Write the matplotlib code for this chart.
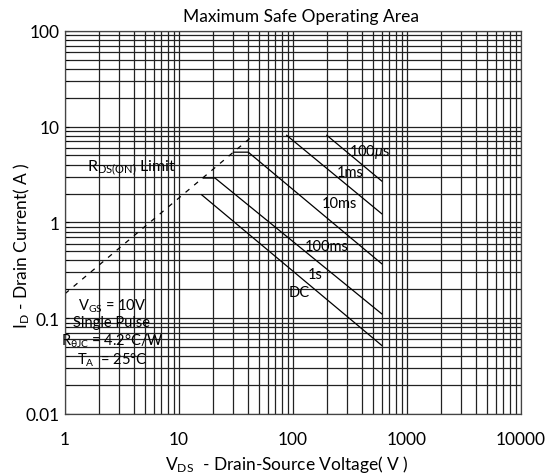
import numpy as np
import matplotlib
matplotlib.use("Agg")
import matplotlib.pyplot as plt
from matplotlib.ticker import LogLocator, NullFormatter, FixedLocator, FixedFormatter

plt.rcParams['font.family'] = ['Lato', 'DejaVu Sans']
plt.rcParams['mathtext.fontset'] = 'custom'
plt.rcParams['mathtext.rm'] = 'Lato'
plt.rcParams['mathtext.it'] = 'Lato:italic'

# SOA boundary curves (V, A)
rds_v = [1, 45]
rds_i = [0.18, 8.1]

us100_v = [198, 600]
us100_i = [8.1, 2.7]

ms1_v = [88, 600]
ms1_i = [8.1, 1.23]

ms10_v = [30, 40.5, 600]
ms10_i = [5.4, 5.4, 0.37]

ms100_v = [16.3, 20.7, 600]
ms100_i = [2.9, 2.9, 0.111]

dc_v = [15.8, 600]
dc_i = [1.94, 0.052]

x_ticks = [1, 10, 100, 1000, 10000]
x_labels = ["1", "10", "100", "1000", "10000"]
y_ticks = [0.01, 0.1, 1, 10, 100]
y_labels = ["0.01", "0.1", "1", "10", "100"]

curve_labels = ["100$\\mu$s", "1ms", "10ms", "100ms", "1s", "DC"]
label_v = [473, 316, 258, 199, 156, 113]
label_i = [5.6, 3.37, 1.6, 0.569, 0.29, 0.188]

fig = plt.figure(figsize=(5.48, 4.77), dpi=100)
ax = fig.add_axes([65 / 548, 1 - 415 / 477, 456 / 548, (415 - 31.7) / 477])
ax.set_xscale('log')
ax.set_yscale('log')
ax.set_xlim(1, 10000)
ax.set_ylim(0.01, 100)

ax.grid(True, which='both', color='#222222', linewidth=0.9)
ax.set_axisbelow(True)
for sp in ax.spines.values():
    sp.set_color('#444444')
    sp.set_linewidth(0.9)

ax.xaxis.set_major_locator(FixedLocator(x_ticks))
ax.xaxis.set_major_formatter(FixedFormatter(x_labels))
ax.yaxis.set_major_locator(FixedLocator(y_ticks))
ax.yaxis.set_major_formatter(FixedFormatter(y_labels))
ax.xaxis.set_minor_locator(LogLocator(base=10, subs=np.arange(2, 10)))
ax.yaxis.set_minor_locator(LogLocator(base=10, subs=np.arange(2, 10)))
ax.xaxis.set_minor_formatter(NullFormatter())
ax.yaxis.set_minor_formatter(NullFormatter())
ax.tick_params(axis='x', which='both', length=0, pad=12, labelsize=12.5)
ax.tick_params(axis='y', which='both', direction='in', length=3, pad=4, labelsize=12.5)

ax.plot(rds_v, rds_i, color='black', linewidth=0.9, linestyle=(0, (4, 5)))
for v, i in [(us100_v, us100_i), (ms1_v, ms1_i), (ms10_v, ms10_i),
             (ms100_v, ms100_i), (dc_v, dc_i)]:
    ax.plot(v, i, color='black', linewidth=0.9)

for txt, v, i in zip(curve_labels, label_v, label_i):
    ax.text(v, i, txt, ha='center', va='center', fontsize=10.5)

ax.text(1.55, 3.78, "R$_\\mathregular{DS(ON)}$ Limit", ha='left', va='center', fontsize=11.5)

ax.text(2.58, 0.137, "V$_\\mathregular{GS}$ = 10V", ha='center', va='center', fontsize=10.5)
ax.text(2.58, 0.0908, "Single Pulse", ha='center', va='center', fontsize=10.5)
ax.text(2.58, 0.0583, "R$_\\mathregular{\\theta JC}$ = 4.2°C/W", ha='center', va='center', fontsize=10.5)
ax.text(2.58, 0.0375, "T$_\\mathregular{A}$  = 25°C", ha='center', va='center', fontsize=10.5)

fig.text(301 / 548, 1 - 17 / 477, "Maximum Safe Operating Area", ha='center', va='center', fontsize=12.5)
fig.text(287 / 548, 1 - 465 / 477, "V$_\\mathregular{DS}$  - Drain-Source Voltage( V )",
         ha='center', va='center', fontsize=12.5)
fig.text(22 / 548, 1 - 246 / 477, "I$_\\mathregular{D}$ - Drain Current( A )",
         ha='center', va='center', rotation=90, fontsize=12.5)

fig.savefig("out.png", dpi=100, facecolor='white')
